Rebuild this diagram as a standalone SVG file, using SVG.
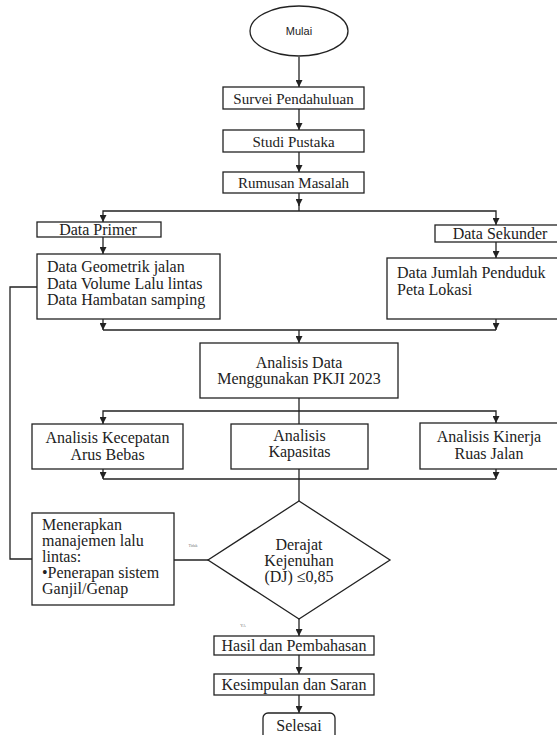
<svg xmlns="http://www.w3.org/2000/svg" width="557" height="735" viewBox="0 0 557 735">
<defs>
<style>
.b{fill:#fff;stroke:#222;stroke-width:1.3}
.c{fill:none;stroke:#222;stroke-width:1.3}
.t{font-family:"Liberation Serif","Times New Roman",serif;font-size:16px;fill:#222}
.m{text-anchor:middle}
.s{font-family:"Liberation Sans",Arial,sans-serif;font-size:11px;fill:#222;text-anchor:middle}
.tiny{font-family:"Liberation Serif",serif;font-size:4px;fill:#777;text-anchor:middle}
</style>
<marker id="ah" viewBox="0 0 8 8" refX="8" refY="4" markerWidth="7" markerHeight="7" orient="auto" markerUnits="userSpaceOnUse"><path d="M0,0 L8,4 L0,8 z" fill="#222"/></marker>
</defs>
<rect width="557" height="735" fill="#fff"/>
<g id="connectors">
<path class="c" d="M299,57 V87" marker-end="url(#ah)"/>
<path class="c" d="M299,109 V130" marker-end="url(#ah)"/>
<path class="c" d="M299,152 V172" marker-end="url(#ah)"/>
<path class="c" d="M299,193 V206" marker-end="url(#ah)"/>
<path class="c" d="M299,200 V211"/>
<path class="c" d="M299,211 H103 V222" marker-end="url(#ah)"/>
<path class="c" d="M299,211 H496 V225" marker-end="url(#ah)"/>
<path class="c" d="M103,237 V254" marker-end="url(#ah)"/>
<path class="c" d="M496,242 V258" marker-end="url(#ah)"/>
<path class="c" d="M103,319 V330" marker-end="url(#ah)"/>
<path class="c" d="M496,319 V330" marker-end="url(#ah)"/>
<path class="c" d="M103,330 H496"/>
<path class="c" d="M299,330 V343" marker-end="url(#ah)"/>
<path class="c" d="M299,398 V424"/>
<path class="c" d="M299,411 H103 V424" marker-end="url(#ah)"/>
<path class="c" d="M299,411 H496 V423" marker-end="url(#ah)"/>
<path class="c" d="M103,469 V479" marker-end="url(#ah)"/>
<path class="c" d="M496,469 V479" marker-end="url(#ah)"/>
<path class="c" d="M103,479 H496"/>
<path class="c" d="M299,469 V501"/>
<path class="c" d="M208,560 H174"/>
<path class="c" d="M32,559 H10 V287 H37"/>
<path class="c" d="M299,619 V636" marker-end="url(#ah)"/>
<path class="c" d="M299,655 V674" marker-end="url(#ah)"/>
<path class="c" d="M299,695 V713" marker-end="url(#ah)"/>
<text class="tiny" x="193" y="547">Tidak</text>
<text class="tiny" x="243" y="627">YA</text>
</g>
<g id="mulai"><ellipse class="b" cx="299" cy="31" rx="49" ry="25"/><text class="s" x="299" y="35">Mulai</text></g>
<g id="survei"><rect class="b" x="223" y="87" width="141" height="22"/><text class="t m" x="293.5" y="104" style="font-size:15px">Survei Pendahuluan</text></g>
<g id="studi"><rect class="b" x="223" y="130" width="141" height="22"/><text class="t m" x="293.5" y="147" style="font-size:15px">Studi Pustaka</text></g>
<g id="rumusan"><rect class="b" x="223" y="172" width="141" height="21"/><text class="t m" x="293.5" y="188" style="font-size:15px">Rumusan Masalah</text></g>
<g id="primer"><rect class="b" x="37" y="222" width="124" height="15"/><text class="t m" x="98" y="235">Data Primer</text></g>
<g id="sekunder"><rect class="b" x="435" y="225" width="123" height="17"/><text class="t m" x="500" y="239">Data Sekunder</text></g>
<g id="primer-data"><rect class="b" x="37" y="254" width="183" height="65"/>
<text class="t" x="47" y="272">Data Geometrik jalan</text>
<text class="t" x="47" y="289">Data Volume Lalu lintas</text>
<text class="t" x="47" y="305">Data Hambatan samping</text></g>
<g id="sekunder-data"><rect class="b" x="387" y="258" width="171" height="61"/>
<text class="t" x="397" y="278">Data Jumlah Penduduk</text>
<text class="t" x="397" y="295">Peta Lokasi</text></g>
<g id="analisis-data"><rect class="b" x="200" y="343" width="198" height="55"/>
<text class="t m" x="299" y="368">Analisis Data</text>
<text class="t m" x="299" y="384">Menggunakan PKJI 2023</text></g>
<g id="kecepatan"><rect class="b" x="32" y="424" width="151" height="45"/>
<text class="t m" x="107.5" y="443">Analisis Kecepatan</text>
<text class="t m" x="107.5" y="460">Arus Bebas</text></g>
<g id="kapasitas"><rect class="b" x="231" y="424" width="137" height="45"/>
<text class="t m" x="299.5" y="441">Analisis</text>
<text class="t m" x="299.5" y="457">Kapasitas</text></g>
<g id="kinerja"><rect class="b" x="420" y="423" width="138" height="46"/>
<text class="t m" x="489" y="442">Analisis Kinerja</text>
<text class="t m" x="489" y="459">Ruas Jalan</text></g>
<g id="derajat"><polygon class="b" points="299,501 390,560 299,619 208,560"/>
<text class="t m" x="299" y="550">Derajat</text>
<text class="t m" x="299" y="566">Kejenuhan</text>
<text class="t m" x="299" y="582">(DJ) ≤0,85</text></g>
<g id="menerapkan"><rect class="b" x="32" y="513" width="142" height="92"/>
<text class="t" x="42" y="530">Menerapkan</text>
<text class="t" x="42" y="546">manajemen lalu</text>
<text class="t" x="42" y="562">lintas:</text>
<text class="t" x="42" y="578">•Penerapan sistem</text>
<text class="t" x="42" y="594">Ganjil/Genap</text></g>
<g id="hasil"><rect class="b" x="214" y="636" width="160" height="19"/><text class="t m" x="294" y="651">Hasil dan Pembahasan</text></g>
<g id="kesimpulan"><rect class="b" x="214" y="674" width="160" height="21"/><text class="t m" x="294" y="690">Kesimpulan dan Saran</text></g>
<g id="selesai"><rect class="b" x="263" y="713" width="72" height="30" rx="5"/><text class="t m" x="299" y="731">Selesai</text></g>
</svg>
